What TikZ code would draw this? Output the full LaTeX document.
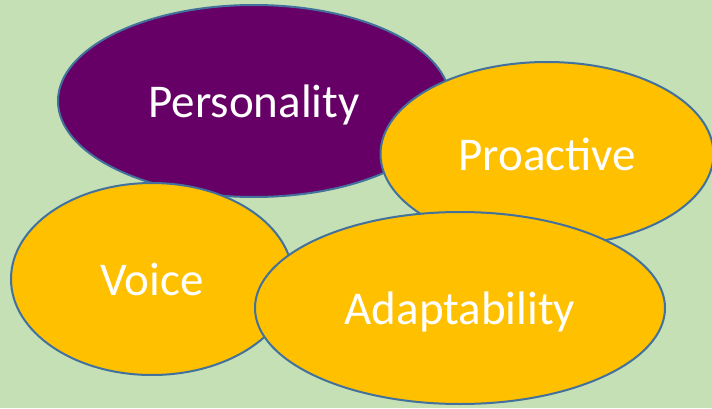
\documentclass[tikz,border=0pt]{standalone}
\usepackage{fontspec}
\setmainfont{Carlito}
\usetikzlibrary{shapes.geometric}
\definecolor{bggreen}{HTML}{C5E0B4}
\definecolor{plum}{HTML}{660066}
\definecolor{amber}{HTML}{FFC000}
\definecolor{rim}{HTML}{41719C}
\begin{document}
\begin{tikzpicture}[x=1pt, y=1pt, semithick]
	\tikzstyle{every trait}=[ellipse, draw=rim, line width=2pt, text=white,
		font=\fontsize{47}{50}\selectfont, inner sep=0pt, text height=33pt, text depth=0pt]
	\tikzstyle{trait}=[every trait, fill=amber]

	\fill[bggreen] (0,0) rectangle (712,408);
	\useasboundingbox (0,0) rectangle (712,408);

		\node[every trait, fill=plum, minimum width=392, minimum height=192] (personality) at (254,307) {Personality};
		\node[trait, minimum width=333, minimum height=184] (proactive) at (547,254) {Proactive};
		\node[trait, minimum width=282, minimum height=192] (voice) at (152,129) {Voice};
		\node[trait, minimum width=410, minimum height=192] (adaptability) at (460,100) {Adaptability};
\end{tikzpicture}
\end{document}
